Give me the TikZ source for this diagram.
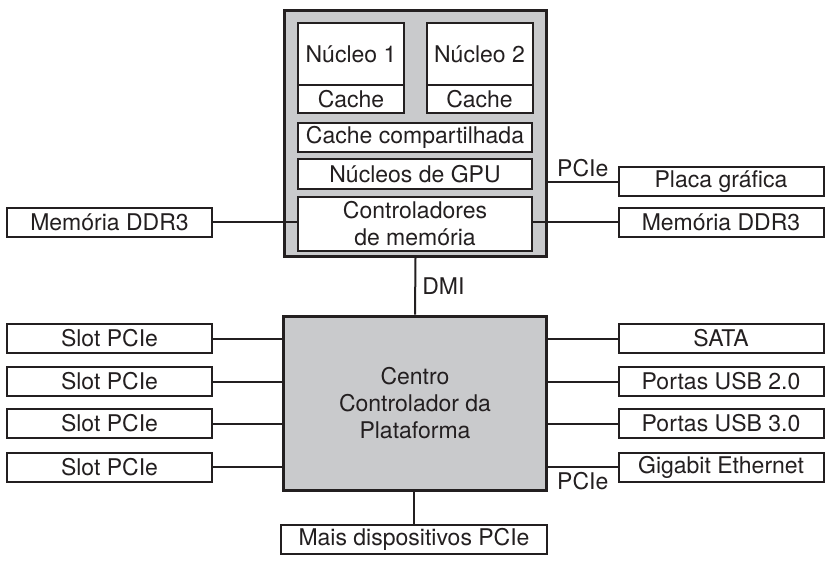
\documentclass[tikz,border=0pt]{standalone}
\usepackage{fontspec}
\setmainfont{TeX Gyre Heros}
\definecolor{inkdark}{RGB}{35,31,32}
\definecolor{chipgray}{RGB}{201,202,204}
\begin{document}
\begin{tikzpicture}[x=1pt,y=-1pt,
		font=\fontsize{23}{27}\selectfont, text=inkdark,
		box/.style={draw=inkdark,line width=2pt,fill=white,inner sep=0pt,align=center,minimum height=29pt,minimum width=205pt},
		chip/.style={draw=inkdark,line width=3pt,fill=chipgray,inner sep=0pt,align=center},
		unit/.style={draw=inkdark,line width=2pt,fill=white,inner sep=0pt,align=center},
		link/.style={draw=inkdark,line width=2pt}]
			\useasboundingbox (0,0) rectangle (834,568);
			\node[chip,minimum width=262pt,minimum height=246pt] (cpu) at (415.5,133) {};
			\node[unit,minimum width=106pt,minimum height=62pt] (core1) at (351,54) {Núcleo 1};
			\node[unit,minimum width=106pt,minimum height=28pt] (cache1) at (351,99) {Cache};
			\node[unit,minimum width=106pt,minimum height=62pt] (core2) at (479.5,54) {Núcleo 2};
			\node[unit,minimum width=106pt,minimum height=28pt] (cache2) at (479.5,99) {Cache};
			\node[unit,minimum width=234pt,minimum height=29pt] (shared) at (415,137.5) {Cache compartilhada};
			\node[unit,minimum width=234pt,minimum height=30pt] (gpu) at (415,174) {Núcleos de GPU};
			\node[unit,minimum width=234pt,minimum height=54pt] (memctl) at (415,224) {Controladores\\de memória};
			\node[box] (ddrL) at (109.5,222) {Memória DDR3};
			\node[box] (gfx) at (721,181.5) {Placa gráfica};
			\node[box] (ddrR) at (721,222) {Memória DDR3};
			\node[chip,minimum width=263pt,minimum height=174pt] (pch) at (415,403) {Centro\\Controlador da\\Plataforma};
			\node[box] (slot1) at (109.5,338.5) {Slot PCIe};
			\node[box] (slot2) at (109.5,381.5) {Slot PCIe};
			\node[box] (slot3) at (109.5,423.5) {Slot PCIe};
			\node[box] (slot4) at (109.5,467) {Slot PCIe};
			\node[box] (sata) at (721,338.5) {SATA};
			\node[box] (usb2) at (721,381.5) {Portas USB 2.0};
			\node[box] (usb3) at (721,423.5) {Portas USB 3.0};
			\node[box] (gbe) at (721,467) {Gigabit Ethernet};
			\node[box,line width=1.2pt,minimum width=266pt] (more) at (414,539.5) {Mais dispositivos PCIe};
			\draw[link] (ddrL.east) -- (ddrL.east -| memctl.west);
			\draw[link] (ddrR.west) -- (ddrR.west -| memctl.east);
			\draw[link] (gfx.west) -- node[above,inner sep=4pt] (pcieTop) {PCIe} (gfx.west -| cpu.east);
			\draw[link] (cpu.south) -- node[right,inner sep=6pt] (dmi) {DMI} (pch.north);
			\foreach \s in {slot1,slot2,slot3,slot4}
				\draw[link] (\s.east) -- (\s.east -| pch.west);
			\foreach \d in {sata,usb2,usb3}
				\draw[link] (\d.west) -- (\d.west -| pch.east);
			\draw[link] (gbe.west) -- node[below,inner sep=4pt] (pcieLow) {PCIe} (gbe.west -| pch.east);
			\draw[link] (pch.south -| more.north) -- (more.north);
\end{tikzpicture}
\end{document}
